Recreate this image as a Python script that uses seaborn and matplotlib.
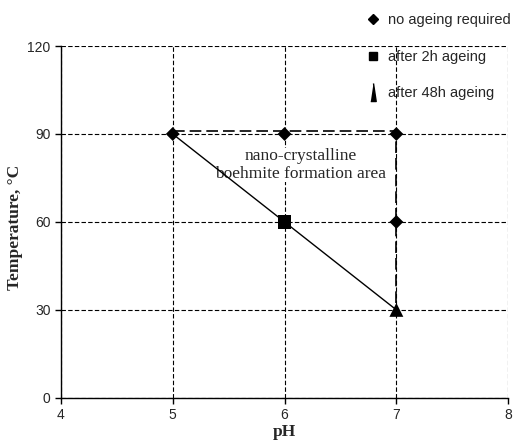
import matplotlib
matplotlib.use("Agg")
import matplotlib.pyplot as plt
from matplotlib.lines import Line2D
import seaborn as sns
import pandas as pd

ph = [5, 6, 7, 7, 6, 7]
temp = [90, 90, 90, 60, 60, 30]
group = ["no ageing required"] * 4 + ["after 2h ageing", "after 48h ageing"]

line_ph = [5, 6, 7]
line_temp = [90, 60, 30]
area_ph = [5, 7, 7]
area_temp = [91, 91, 30]

df = pd.DataFrame({"pH": ph, "Temperature": temp, "group": group})

sns.set_style("white")
fig = plt.figure(figsize=(5.25, 4.47), dpi=100)
ax = fig.add_axes([0.116, 0.110, 0.852, 0.787])

ax.plot(area_ph, area_temp, color="black", lw=1.2, ls=(0, (7, 3)), zorder=2)
ax.plot(line_ph, line_temp, color="black", lw=1.0, zorder=2)

markers = {"no ageing required": "D", "after 2h ageing": "s", "after 48h ageing": "^"}
sns.scatterplot(data=df, x="pH", y="Temperature", style="group", size="group",
                sizes={"no ageing required": 50, "after 2h ageing": 90,
                       "after 48h ageing": 100},
                color="black", markers=markers, edgecolor="black", linewidth=0,
                ax=ax, zorder=3, legend=False)

ax.set_xlim(4, 8)
ax.set_ylim(0, 120)
ax.set_xticks([4, 5, 6, 7, 8])
ax.set_yticks([0, 30, 60, 90, 120])
ax.grid(True, color="black", ls=(0, (4, 2)), lw=0.8)
ax.set_axisbelow(True)
for s in ["top", "right"]:
    ax.spines[s].set_visible(False)
for s in ["left", "bottom"]:
    ax.spines[s].set_color("black")
    ax.spines[s].set_linewidth(1.0)
ax.tick_params(axis="both", direction="out", length=4, width=1, color="black",
               labelsize=10, left=True, bottom=True)
for lab in ax.get_xticklabels() + ax.get_yticklabels():
    lab.set_family("Liberation Sans")

ax.set_xlabel("pH", family="Liberation Serif", fontweight="bold", fontsize=12.5, labelpad=1)
ax.set_ylabel("Temperature, °C", family="Liberation Serif", fontweight="bold", fontsize=12.5, labelpad=5)
ax.yaxis.set_label_coords(-0.085, 0.485)

ax.text(6.14, 79.4, "nano-crystalline\nboehmite formation area", ha="center", va="center",
        family="Liberation Serif", fontsize=12.5, linespacing=1.1,
        bbox=dict(facecolor="white", edgecolor="none", pad=0.5), zorder=1)

handles = [
    Line2D([], [], ls="none", marker="D", color="black", markersize=5),
    Line2D([], [], ls="none", marker="s", color="black", markersize=6),
    Line2D([], [], ls="none", marker=[(-0.3, -1), (0.3, -1), (0, 1)], color="black", markersize=13),
]
labels = ["no ageing required", "after 2h ageing", "after 48h ageing"]
fig.legend(handles, labels, loc="upper left", bbox_to_anchor=(0.668, 1.0),
           frameon=False, prop={"family": "Liberation Sans", "size": 10.5},
           labelspacing=1.55, handletextpad=0.45, handlelength=1.2)

fig.savefig("out.png", dpi=100)
